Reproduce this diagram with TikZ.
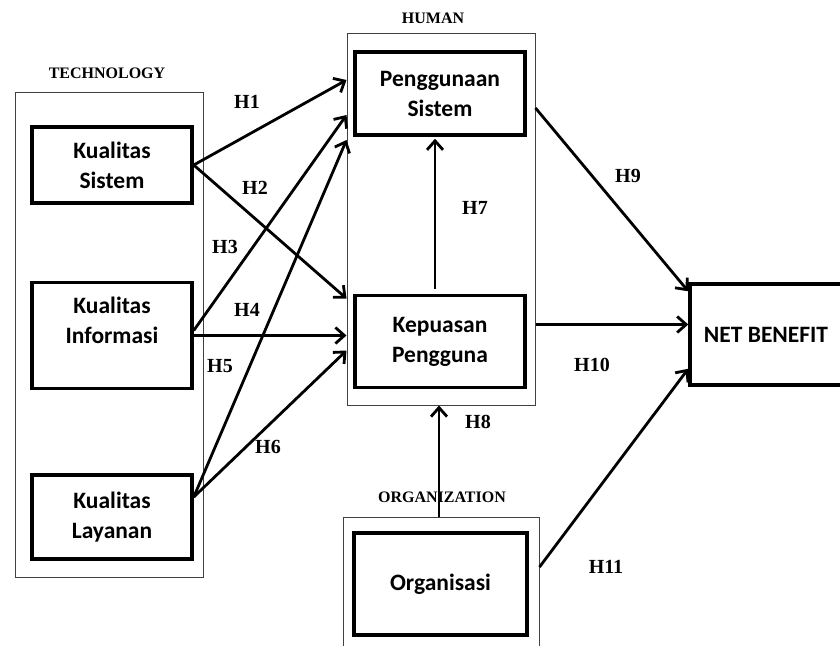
\documentclass[tikz,border=0pt]{standalone}
\usepackage{fontspec}
\setmainfont{Liberation Serif}
\newfontfamily\boxfont{Carlito}
\usetikzlibrary{arrows.meta,positioning,calc}
\tikzset{
  blk/.style={draw,rectangle,line width=3.5pt,minimum width=160pt,align=center,font=\boxfont\bfseries\fontsize{23.5}{30}\selectfont},
  grp/.style={draw=black!75,rectangle,line width=1pt,minimum width=188pt},
  grplbl/.style={font=\bfseries\fontsize{16}{18}\selectfont},
  hlbl/.style={font=\bfseries\fontsize{20}{22}\selectfont},
  arr/.style={-{Straight Barb[length=9pt,width=16pt]},line width=2.8pt}
}

\begin{document}
\begin{tikzpicture}[x=1pt,y=1pt]
  \fill[white] (0,0) rectangle (840,-645);
  \useasboundingbox (0,0) rectangle (840,-645);

  % technology
  \node[grp,minimum height=485pt] (tech) at (109,-334.5) {};
  \node[grplbl] (techlbl) at (107,-73) {TECHNOLOGY};
  \node[blk,minimum height=76pt] (sis) at (112,-165) {Kualitas\\Sistem};
  \node[blk,minimum height=106pt,below=76pt of sis] (inf) {Kualitas\\Informasi\\\mbox{}};
  \node[blk,minimum height=84pt,below=83pt of inf] (lay) {Kualitas\\Layanan};

  % human
  \node[grp,minimum height=372pt] (hum) at (441,-219) {};
  \node[grplbl] (humlbl) at (433,-18) {HUMAN};
  \node[blk,minimum width=170pt,minimum height=83pt] (pen) at (440,-93.5) {Penggunaan\\Sistem};
  \node[blk,minimum width=170pt,minimum height=92pt,below=157pt of pen] (kep) {Kepuasan\\Pengguna};

  % organization
  \node[grp,minimum width=196pt,minimum height=143pt] (orggrp) at (441,-588.5) {};
  \node[grplbl] (orglbl) at (442,-497) {ORGANIZATION};
  \node[blk,minimum width=173pt,minimum height=102pt] (org) at (440.5,-584) {Organisasi};

  \node[blk,minimum width=152pt,minimum height=101pt] (net) at (766,-334.5) {NET BENEFIT};

  \draw[arr] (sis.east) -- ([yshift=13.5pt]pen.west -| hum.west);
  \draw[arr] (sis.east) -- ([yshift=43pt]kep.west -| hum.west);
  \draw[arr] ([yshift=5pt]inf.east) -- ([yshift=-21.5pt]pen.west -| hum.west);
  \draw[arr] (inf.east) -- (inf.east -| hum.west);
  \draw[arr] ([yshift=20pt]lay.east) -- ([yshift=-46.5pt]pen.west -| hum.west);
  \draw[arr] ([yshift=20pt]lay.east) -- ([yshift=-9pt]kep.west -| hum.west);
  \draw[arr,shorten <=5pt,shorten >=2pt] ([xshift=-5pt]kep.north) -- ([xshift=-5pt]pen.south);
  \draw[arr] ([xshift=-2pt]orggrp.north) -- ([xshift=-2pt]hum.south);
  \draw[arr] ([yshift=-14.5pt]pen.east -| hum.east) -- ([yshift=-9pt]net.north west);
  \draw[arr] ([yshift=10pt]net.west -| hum.east) -- ([yshift=10pt]net.west);
  \draw[arr] ([yshift=17pt]org.east -| orggrp.east) -- ([yshift=18pt]net.south west);

  \node[hlbl] (h1) at (247,-102) {H1};
  \node[hlbl] (h2) at (255,-188) {H2};
  \node[hlbl] (h3) at (225,-247) {H3};
  \node[hlbl] (h4) at (247,-310) {H4};
  \node[hlbl] (h5) at (220,-366) {H5};
  \node[hlbl] (h6) at (268,-447) {H6};
  \node[hlbl] (h7) at (475,-208) {H7};
  \node[hlbl] (h8) at (478,-422) {H8};
  \node[hlbl] (h9) at (628,-176) {H9};
  \node[hlbl] (h10) at (592,-365) {H10};
  \node[hlbl] (h11) at (606,-567) {H11};
\end{tikzpicture}
\end{document}
